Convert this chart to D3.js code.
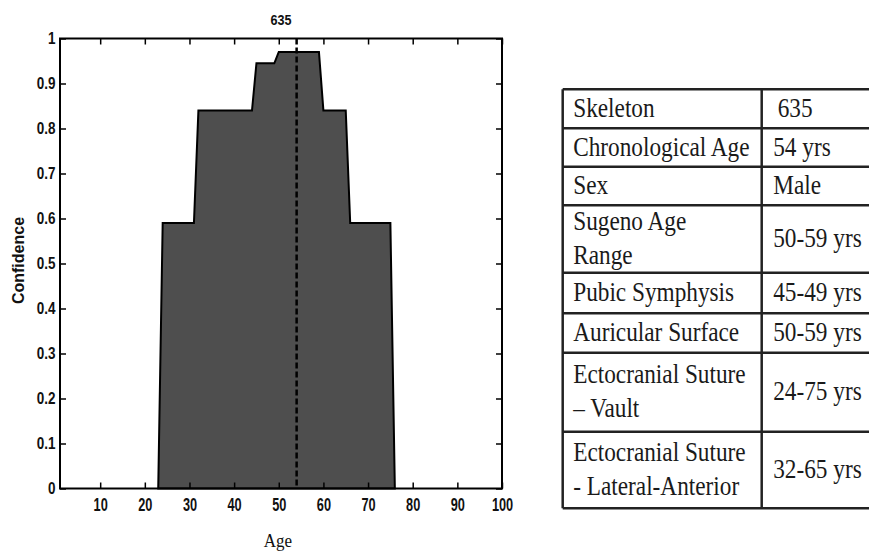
<!DOCTYPE html>
<html>
<head>
<meta charset="utf-8">
<script src="https://cdn.jsdelivr.net/npm/d3@7"></script>
<style>
  body { margin: 0; background: #fff; }
  svg { display: block; }
</style>
</head>
<body>
<div id="chart"></div>
<script>
// data
let skeletonId = "635";
let chronoAge = 54;
let ages = [23, 24, 31, 32, 44, 45, 49, 50, 59, 60, 65, 66, 75, 76];
let confidence = [0, 0.59, 0.59, 0.84, 0.84, 0.945, 0.945, 0.97, 0.97, 0.84, 0.84, 0.59, 0.59, 0];
let xTicks = [10, 20, 30, 40, 50, 60, 70, 80, 90, 100];
let yTicks = [0, 0.1, 0.2, 0.3, 0.4, 0.5, 0.6, 0.7, 0.8, 0.9, 1];

let rowLabels = [
    ["Skeleton"],
    ["Chronological Age"],
    ["Sex"],
    ["Sugeno Age", "Range"],
    ["Pubic Symphysis"],
    ["Auricular Surface"],
    ["Ectocranial Suture", "\u2013 Vault"],
    ["Ectocranial Suture", "- Lateral-Anterior"]
];
let rowValues = ["635", "54 yrs", "Male", "50-59 yrs", "45-49 yrs", "50-59 yrs", "24-75 yrs", "32-65 yrs"];

// layout
let dim = { width: 869, height: 552 };
let plot = { left: 60, right: 502, top: 38.5, bottom: 488.5 };
let table = { left: 562.7, mid: 761.7, right: 876, top: 89.3 };
let rowH = [39, 38.4, 38.6, 67.4, 40.6, 39.4, 79, 76.6];

let svg = d3.select("#chart")
            .append("svg")
            .attr("width", dim.width)
            .attr("height", dim.height);

let scaleX = d3.scaleLinear()
               .domain([1, 100])
               .range([plot.left, plot.right]);

let scaleY = d3.scaleLinear()
               .domain([0, 1])
               .range([plot.bottom, plot.top]);

let pts = ages.map((a, i) => ({ age: a, conf: confidence[i] }));

let area = d3.area()
             .x(d => scaleX(d.age))
             .y0(scaleY(0))
             .y1(d => scaleY(d.conf));

svg.append("path")
   .datum(pts)
   .attr("d", area)
   .attr("fill", "#4e4e4e")
   .attr("stroke", "#000")
   .attr("stroke-width", 2)
   .attr("stroke-linejoin", "miter");

// chronological age marker
svg.append("line")
   .attr("x1", scaleX(chronoAge))
   .attr("x2", scaleX(chronoAge))
   .attr("y1", scaleY(1))
   .attr("y2", scaleY(0))
   .attr("stroke", "#000")
   .attr("stroke-width", 2.5)
   .attr("stroke-dasharray", "6,3");

// axes, matlab style: ticks inward on all four sides
let tickFont = "'Liberation Sans', Arial, sans-serif";

let axB = svg.append("g")
             .attr("transform", `translate(0, ${plot.bottom})`)
             .call(d3.axisBottom(scaleX).tickValues(xTicks).tickSizeInner(-6).tickSizeOuter(0).tickPadding(7));
let axT = svg.append("g")
             .attr("transform", `translate(0, ${plot.top})`)
             .call(d3.axisTop(scaleX).tickValues(xTicks).tickSizeInner(-6).tickSizeOuter(0).tickFormat(""));
let axL = svg.append("g")
             .attr("transform", `translate(${plot.left}, 0)`)
             .call(d3.axisLeft(scaleY).tickValues(yTicks).tickSizeInner(-6).tickSizeOuter(0).tickPadding(5).tickFormat(d3.format("~g")));
let axR = svg.append("g")
             .attr("transform", `translate(${plot.right}, 0)`)
             .call(d3.axisRight(scaleY).tickValues(yTicks).tickSizeInner(-6).tickSizeOuter(0).tickFormat(""));

[axB, axT, axL, axR].forEach(ax => {
    ax.select(".domain").remove();
    ax.selectAll(".tick line").attr("stroke", "#000").attr("stroke-width", 1.5);
    ax.selectAll("text")
      .attr("font-family", tickFont)
      .attr("font-weight", "bold")
      .attr("font-size", 15)
      .attr("fill", "#111");
});
// the original glyphs are narrow and tall
axB.selectAll("text").attr("transform", "scale(0.85,1.25)");
axL.selectAll("text").attr("transform", "scale(0.9,1.12)");

svg.append("rect")
   .attr("x", plot.left)
   .attr("y", plot.top)
   .attr("width", plot.right - plot.left)
   .attr("height", plot.bottom - plot.top)
   .attr("fill", "none")
   .attr("stroke", "#000")
   .attr("stroke-width", 2);

// titles
svg.append("text")
   .attr("transform", `translate(${(plot.left + plot.right) / 2}, 25) scale(0.9,1.1)`)
   .attr("text-anchor", "middle")
   .attr("font-family", tickFont)
   .attr("font-weight", "bold")
   .attr("font-size", 14)
   .attr("fill", "#111")
   .text(skeletonId);

svg.append("text")
   .attr("transform", `translate(24, ${(plot.top + plot.bottom) / 2 - 3}) rotate(-90)`)
   .attr("text-anchor", "middle")
   .attr("font-family", tickFont)
   .attr("font-weight", "bold")
   .attr("font-size", 16)
   .attr("fill", "#111")
   .text("Confidence");

svg.append("text")
   .attr("transform", "translate(278, 547) scale(1,1.1)")
   .attr("text-anchor", "middle")
   .attr("font-family", "'Liberation Serif', 'Times New Roman', serif")
   .attr("font-size", 17)
   .attr("fill", "#111")
   .text("Age");

// table
let serif = "'Liberation Serif', 'Times New Roman', serif";
let rowTop = [];
let acc = table.top;
rowH.forEach(h => { rowTop.push(acc); acc += h; });
let tableBottom = acc;

let tg = svg.append("g");

tg.selectAll("line.h")
  .data(rowTop.concat([tableBottom]))
  .join("line")
  .attr("class", "h")
  .attr("x1", table.left)
  .attr("x2", table.right)
  .attr("y1", d => d)
  .attr("y2", d => d)
  .attr("stroke", "#222")
  .attr("stroke-width", 2.5);

tg.selectAll("line.v")
  .data([table.left, table.mid, table.right])
  .join("line")
  .attr("class", "v")
  .attr("x1", d => d)
  .attr("x2", d => d)
  .attr("y1", table.top)
  .attr("y2", tableBottom)
  .attr("stroke", "#222")
  .attr("stroke-width", 2.5);

let lineGap = 34;

function cellText(x, y, s) {
    tg.append("text")
      .attr("transform", `translate(${x}, ${y}) scale(0.97,1.12)`)
      .attr("font-family", serif)
      .attr("font-size", 24)
      .attr("fill", "#1a1a1a")
      .text(s);
}

rowLabels.forEach((lines, i) => {
    let cy = rowTop[i] + rowH[i] / 2 + 8;
    let first = cy - (lines.length - 1) * lineGap / 2;
    lines.forEach((s, k) => cellText(table.left + 10.5, first + k * lineGap, s));
    cellText(table.mid + (i === 0 ? 16 : 11.5), cy, rowValues[i]);
});
</script>
</body>
</html>
